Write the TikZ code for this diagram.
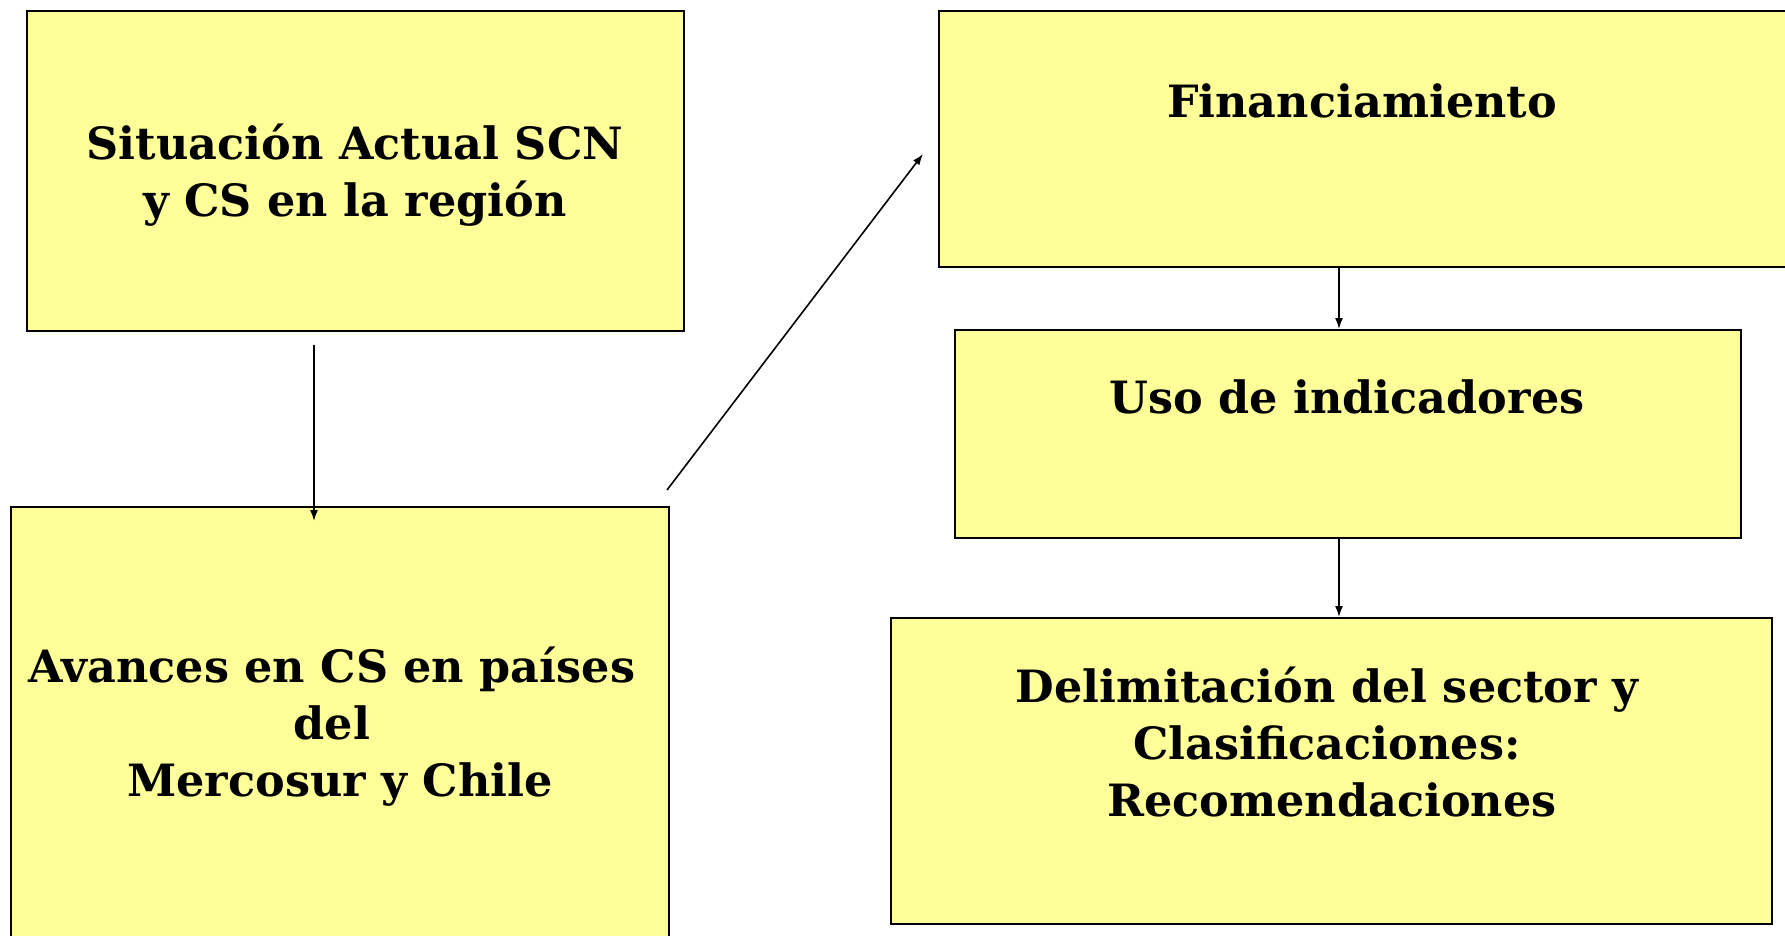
\documentclass[tikz,border=0pt]{standalone}
\usepackage{fontspec}
\setmainfont{DejaVu Serif}
\usetikzlibrary{arrows.meta}
\definecolor{boxfill}{HTML}{FFFF99}
\begin{document}
\begin{tikzpicture}[x=1pt,y=-1pt,
  box/.style={draw=black,line width=2pt,fill=boxfill,rectangle,inner sep=0pt,anchor=north west},
  label/.style={font=\bfseries\fontsize{44.5}{57}\selectfont,align=center,inner sep=0pt},
  conn/.style={line width=1.6pt,-{Latex[length=11pt,width=8pt]}}]
\useasboundingbox (0,0) rectangle (1785,935);
\node[box,minimum width=657pt,minimum height=320pt] (b1) at (26,10) {};
\node[box,minimum width=658pt,minimum height=450pt] (b2) at (10,506) {};
\node[box,minimum width=860pt,minimum height=256pt] (b3) at (938,10) {};
\node[box,minimum width=786pt,minimum height=208pt] (b4) at (954,329) {};
\node[box,minimum width=881pt,minimum height=306pt] (b5) at (890,617) {};
\node[label] (t1) at (355,175) {Situación Actual SCN\\y CS en la región};
\node[label] (t2) at (332,727) {Avances en CS en países\\del\\\hspace*{16pt}Mercosur y Chile};
\node[label] (t3) at (1362,101) {Financiamiento};
\node[label] (t4) at (1347,397) {Uso de indicadores};
\node[label] (t5) at (1327,742) {Delimitación del sector y\\Clasificaciones:\\\hspace*{10pt}Recomendaciones};
\coordinate (a1s) at (314,345);
\coordinate (a1e) at (314,521);
\coordinate (a2s) at (667,490);
\coordinate (a2e) at (923,154);
\draw[conn] (a1s) -- (a1e);
\draw[conn] (a2s) -- (a2e);
\draw[conn] (b3.south -| 1339,0) -- (b4.north -| 1339,0);
\draw[conn] (b4.south -| 1339,0) -- (b5.north -| 1339,0);
\end{tikzpicture}
\end{document}
